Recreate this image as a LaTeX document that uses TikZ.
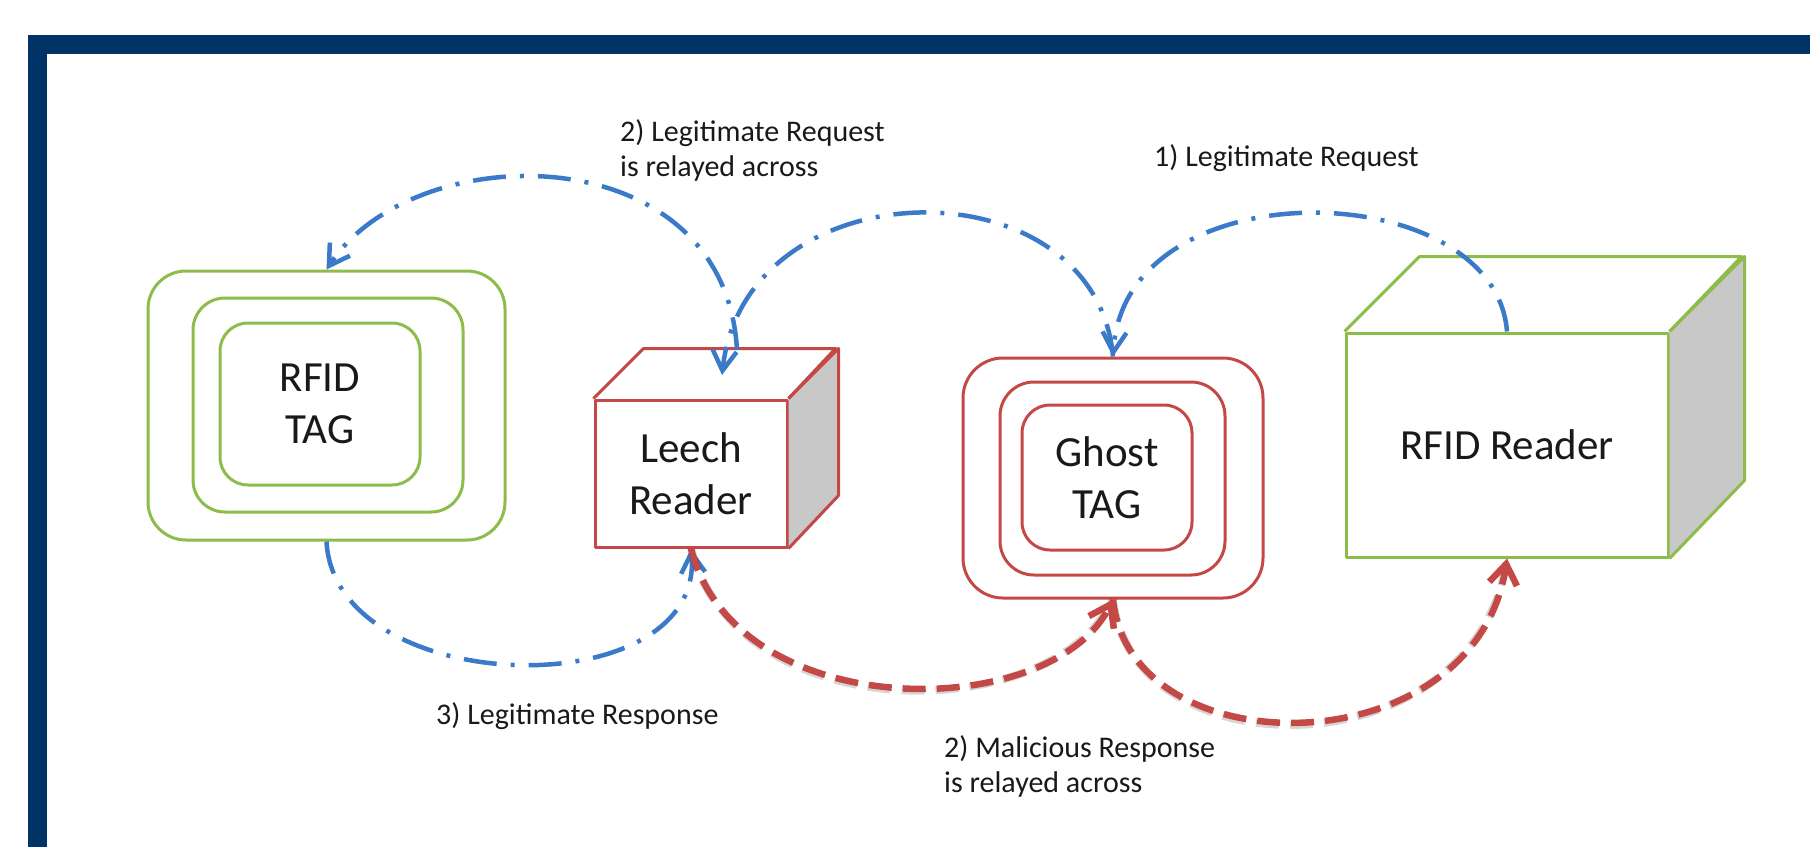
\documentclass[tikz,border=0pt]{standalone}
\usepackage{fontspec}
\setmainfont{Carlito}
\usetikzlibrary{arrows.meta}

\definecolor{frameblue}{RGB}{0,51,102}
\definecolor{tagGreen}{RGB}{141,188,74}
\definecolor{evilRed}{RGB}{195,72,70}
\definecolor{linkBlue}{RGB}{58,122,200}
\definecolor{sideGray}{RGB}{200,200,200}
\definecolor{inkText}{RGB}{25,25,25}

\tikzset{
  bigtext/.style={font=\fontsize{43}{52}\selectfont, text=inkText, align=center},
  smalltext/.style={font=\fontsize{30}{35}\selectfont, text=inkText, align=left, inner sep=0pt},
  ring/.style={draw=#1, line width=3pt, inner sep=0pt, fill=none},
  cubefront/.style={draw=#1, line width=3pt, inner sep=0pt, fill=white, line join=round},
  cubeface/.style={draw=#1, line width=3pt, line join=round},
  legit/.style={draw=linkBlue, line width=4.5pt,
    dash pattern=on 33pt off 14pt on 4pt off 14pt,
    -{Straight Barb[length=20pt,width=24pt]}},
  rogue/.style={draw=evilRed, line width=6.5pt,
    dash pattern=on 23pt off 11pt,
    -{Straight Barb[length=20pt,width=28pt]}},
  rogueshade/.style={draw=black, opacity=0.16, line width=8pt,
    dash pattern=on 23pt off 11pt},
}

\begin{document}
\begin{tikzpicture}[x=1pt,y=-1pt]
\useasboundingbox (0,0) rectangle (1810,847);

% frame bars
\fill[frameblue] (28,35) rectangle (1810,54);
\fill[frameblue] (28,35) rectangle (47,847);

% RFID tag: three nested rounded rings
\node[ring=tagGreen, minimum width=357pt, minimum height=269pt, rounded corners=38pt] (tagO) at (326.5,405.5) {};
\node[ring=tagGreen, minimum width=270pt, minimum height=214pt, rounded corners=32pt] (tagM) at (328,405) {};
\node[ring=tagGreen, minimum width=200pt, minimum height=162pt, rounded corners=28pt, bigtext] (tagI) at (320,404) {RFID\\TAG};

% Ghost tag: three nested rounded rings
\node[ring=evilRed, minimum width=300pt, minimum height=240pt, rounded corners=40pt] (ghostO) at (1113,478) {};
\node[ring=evilRed, minimum width=225pt, minimum height=193pt, rounded corners=34pt] (ghostM) at (1112.5,478.5) {};
\node[ring=evilRed, minimum width=170pt, minimum height=145pt, rounded corners=28pt, bigtext] (ghostI) at (1107,477.5) {Ghost\\TAG};

% Leech reader cube
\node[cubefront=evilRed, minimum width=192pt, minimum height=147pt, bigtext] (leech) at (691,473.5) {Leech\\Reader};
\fill[sideGray] (leech.north east) -- ++(50,-50) -- ++(0,147) -- (leech.south east) -- cycle;
\draw[cubeface=evilRed] (leech.north east) -- ++(50,-50) -- ++(0,147) -- (leech.south east);
\draw[cubeface=evilRed] (leech.north west) -- ++(50,-50) -- ++(192,0) -- (leech.north east);

% RFID reader cube
\node[cubefront=tagGreen, minimum width=322pt, minimum height=224pt, bigtext] (reader) at (1507,445) {RFID Reader};
\fill[sideGray] (reader.north east) -- ++(75,-75) -- ++(0,224) -- (reader.south east) -- cycle;
\draw[cubeface=tagGreen] (reader.north east) -- ++(75,-75) -- ++(0,224) -- (reader.south east);
\draw[cubeface=tagGreen] (reader.north west) -- ++(75,-75) -- ++(322,0) -- (reader.north east);

% points on the leech reader's top face
\coordinate (leechIn) at (722,375);
\coordinate (leechOut) at (737,350);

% legitimate (blue) exchanges
\draw[legit] (reader.north) .. controls (1495,175) and (1125,165) .. (ghostO.north);
\draw[legit] (ghostO.north) .. controls (1095,160) and (745,165) .. (leechIn);
\draw[legit] (leechOut) .. controls (725,135) and (415,135) .. (tagO.north);
\draw[legit] (tagO.south) .. controls (335,700) and (705,708) .. (leech.south);

% malicious (red) exchanges, with a soft shadow
\draw[rogueshade, shift={(2,4)}] (leech.south) .. controls (735,725) and (1050,724) .. (ghostO.south);
\draw[rogueshade, shift={(2,4)}] (ghostO.south) .. controls (1130,770) and (1475,768) .. (reader.south);
\draw[rogue] (leech.south) .. controls (735,725) and (1050,724) .. (ghostO.south);
\draw[rogue] (ghostO.south) .. controls (1130,770) and (1475,768) .. (reader.south);

% labels
\node[smalltext, anchor=west] (lblRelayReq) at (620,150) {2) Legitimate Request\\is relayed across};
\node[smalltext, anchor=west] (lblReq) at (1154,158) {1) Legitimate Request};
\node[smalltext, anchor=west] (lblResp) at (436,716) {3) Legitimate Response};
\node[smalltext, anchor=west] (lblMal) at (944,766) {2) Malicious Response\\is relayed across};
\end{tikzpicture}
\end{document}
